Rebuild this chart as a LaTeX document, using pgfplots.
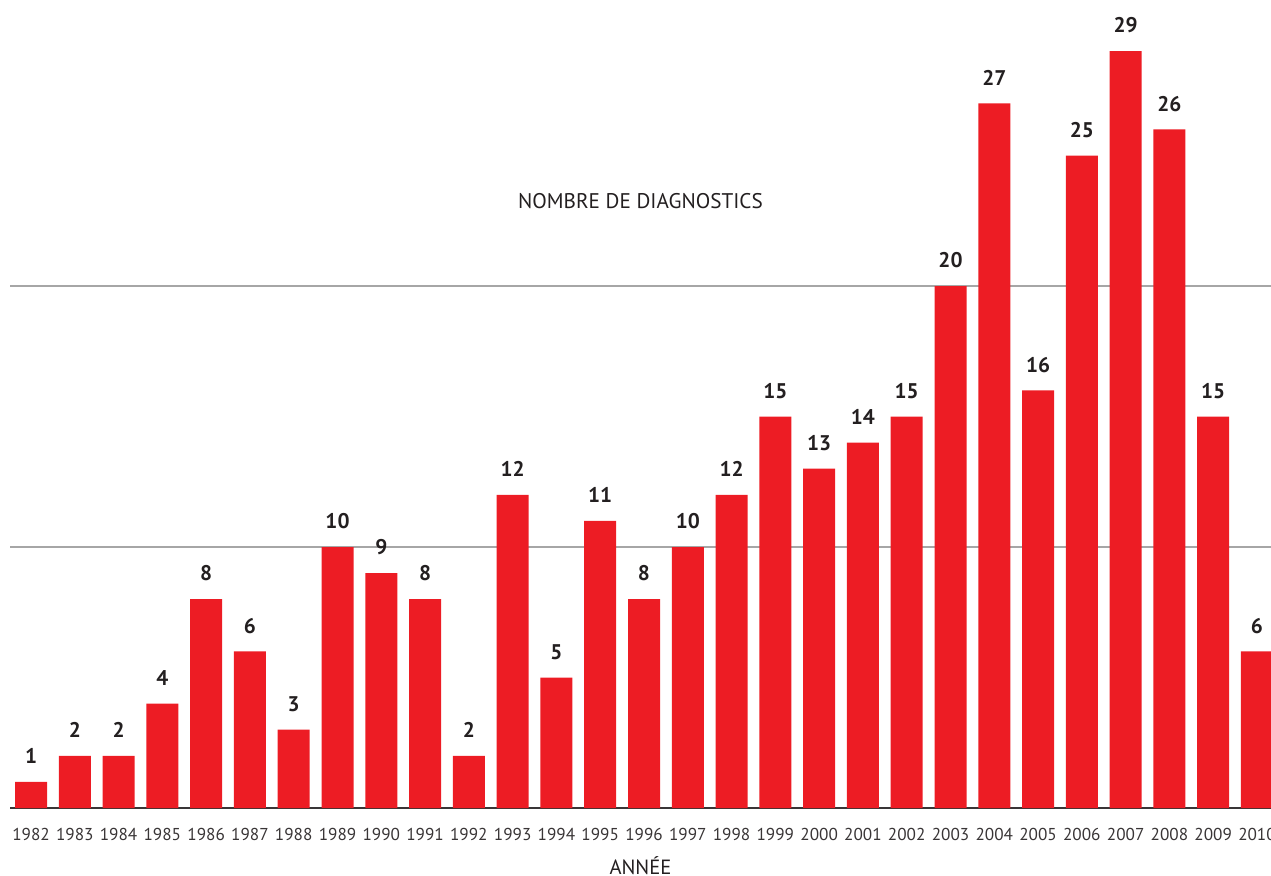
\documentclass[border=0pt]{standalone}
\usepackage{pgfplots}
\pgfplotsset{compat=1.18}
\usepackage{fontspec}
\setmainfont{PT Sans}

\definecolor{barred}{HTML}{ED1C24}
\definecolor{txt}{HTML}{231F20}
\definecolor{gridgray}{HTML}{A6A6A6}

\begin{document}
\begin{tikzpicture}
\begin{axis}[
    scale only axis,
    width=630.5pt, height=404pt,
    xmin=1981.52, xmax=2010.32,
    ymin=0, ymax=30.96,
    ybar, bar width=16pt,
    axis x line*=bottom,
    axis y line*=left,
    y axis line style={draw=none},
    x axis line style={line width=1.3pt, color=txt!90, -},
    xtick=data,
    major tick length=0pt,
    /pgf/number format/1000 sep={},
    /pgf/number format/assume math mode=true,
    xticklabel style={font=\fontsize{8.6}{10}\selectfont, text=txt!90, inner sep=0pt, anchor=north, yshift=-10pt},
    ytick={10,20},
    yticklabels={},
    ymajorgrids,
    grid style={gridgray, line width=0.7pt},
    clip=false,
    nodes near coords,
    every node near coord/.append style={font=\fontsize{10.6}{12}\bfseries, text=txt, inner sep=0pt, anchor=south, yshift=8.8pt},
    xlabel={ANNÉE},
    xlabel style={at={(axis description cs:0.5,0)}, anchor=north, inner sep=0pt, yshift=-24pt, font=\fontsize{10.3}{12}\selectfont, text=txt},
    title={NOMBRE DE DIAGNOSTICS},
    title style={at={(axis description cs:0.5,0.736)}, anchor=center, inner sep=0pt, font=\fontsize{10.6}{12}\selectfont, text=txt},
]
\addplot[fill=barred, draw=none] coordinates {
(1982,1) (1983,2) (1984,2) (1985,4) (1986,8) (1987,6) (1988,3) (1989,10)
(1990,9) (1991,8) (1992,2) (1993,12) (1994,5) (1995,11) (1996,8) (1997,10)
(1998,12) (1999,15) (2000,13) (2001,14) (2002,15) (2003,20) (2004,27)
(2005,16) (2006,25) (2007,29) (2008,26) (2009,15) (2010,6)
};
\end{axis}
\pgfresetboundingbox
\path[use as bounding box] ([xshift=-5pt,yshift=-33.5pt]current axis.south west) rectangle (current axis.north east);
\end{tikzpicture}
\end{document}
